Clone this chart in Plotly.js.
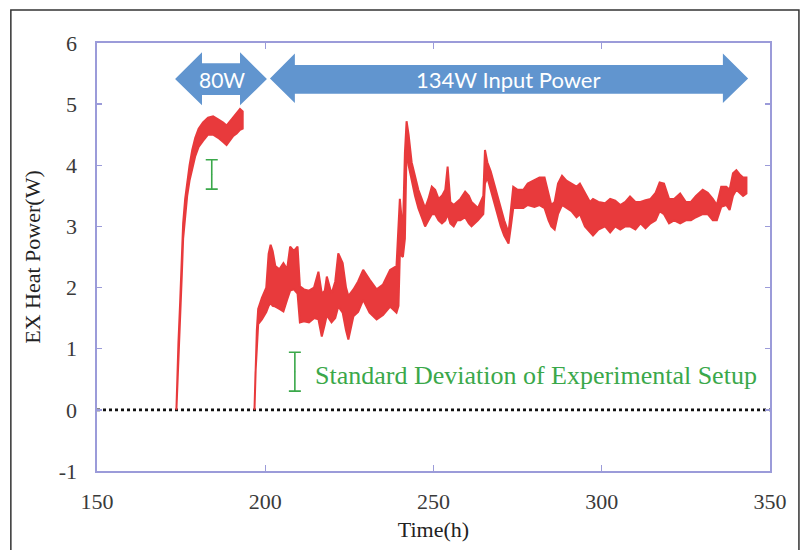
<!DOCTYPE html>
<html><head><meta charset="utf-8">
<script src="https://cdn.plot.ly/plotly-3.0.1.min.js"></script>
<style>html,body{margin:0;padding:0;background:#fff}</style>
</head><body><div id="chart" style="width:804px;height:550px"></div>
<script>
// 80W segment: time (h), lower and upper edge of the scattered band (W)
const tA  = [173.6,173.9,174.2,174.7,175.2,175.6,176.2,176.8,177.5,178.3,179.2,180.2,181.5,183.0,184.5,186.0,187.5,188.5,189.5,190.5,191.5,192.5,193.3];
const loA = [0,0.4,0.9,1.5,2.2,2.8,3.2,3.5,3.75,3.95,4.15,4.3,4.4,4.5,4.5,4.45,4.38,4.33,4.4,4.48,4.52,4.58,4.6];
const hiA = [0,0.6,1.1,1.75,2.5,3.05,3.45,3.75,4.0,4.25,4.45,4.6,4.7,4.78,4.8,4.75,4.7,4.65,4.72,4.78,4.85,4.92,4.88];

// 134W segment
const tB  = [196.8,197.1,197.5,197.9,199.0,200.3,201.0,201.6,202.2,203.0,204.2,205.4,206.5,207.4,208.5,209.6,210.3,211.5,213.0,214.5,215.8,216.8,217.7,218.3,219.7,220.8,221.7,223.0,224.0,224.7,226.2,227.6,229.1,231.0,233.1,235.0,237.1,239.0,239.6,240.0,240.9,241.5,242.0,242.6,243.5,244.5,245.5,246.5,247.5,248.5,249.5,250.5,251.5,252.5,253.5,254.2,255.0,256.0,257.0,258.0,259.4,260.5,261.3,262.3,263.2,264.8,265.3,266.0,267.0,268.0,269.0,270.0,271.0,272.3,273.0,273.7,275.0,276.7,278.0,280.0,281.5,283.0,284.2,285.0,286.0,287.0,288.2,289.5,291.0,292.5,293.5,295.0,296.5,297.4,299.0,301.0,302.5,304.0,305.5,307.0,308.4,310.0,311.5,313.0,314.5,316.0,317.2,318.5,320.0,321.5,323.3,325.0,326.5,328.0,330.0,331.5,333.0,334.2,335.5,337.0,338.0,339.0,340.0,341.0,342.0,343.0];
const loB = [0,0.6,1.0,1.4,1.48,1.6,1.7,1.75,1.7,1.69,1.65,1.61,1.8,1.95,1.97,1.9,1.43,1.45,1.43,1.5,1.48,1.2,1.4,1.55,1.43,1.5,1.69,1.59,1.3,1.15,1.53,1.6,1.8,1.59,1.48,1.55,1.69,1.59,1.7,2.55,2.5,2.8,4.3,4.0,3.75,3.5,3.3,3.15,3.0,3.1,3.2,3.2,3.1,3.05,3.1,3.2,3.05,3.0,3.1,3.1,3.15,3.05,3.0,3.05,3.1,3.2,3.7,3.8,3.6,3.4,3.2,3.0,2.85,2.72,3.0,3.3,3.3,3.3,3.35,3.32,3.35,3.3,3.1,3.0,2.95,3.2,3.35,3.3,3.25,3.15,3.2,3.0,2.9,2.85,2.95,3.0,2.9,3.0,2.95,3.0,3.0,2.95,3.05,2.97,3.05,3.1,3.25,3.2,3.05,3.1,3.05,3.1,3.1,3.15,3.2,3.2,3.1,3.1,3.32,3.35,3.27,3.5,3.6,3.55,3.5,3.54];
const hiB = [0,0.7,1.3,1.65,1.83,2.0,2.55,2.7,2.6,2.35,2.3,2.4,2.3,2.67,2.6,2.67,2.02,1.97,1.95,2.0,2.26,1.9,1.95,2.18,1.9,2.1,2.56,2.4,2.0,1.86,1.97,2.1,2.29,2.13,1.97,2.05,2.29,2.35,2.95,3.45,2.9,4.2,4.72,4.5,4.05,3.8,3.6,3.45,3.3,3.45,3.65,3.6,3.45,3.5,3.6,3.98,3.4,3.35,3.4,3.45,3.57,3.5,3.4,3.35,3.3,3.5,4.25,4.05,3.9,3.7,3.5,3.3,3.1,2.9,3.3,3.65,3.6,3.6,3.7,3.76,3.8,3.8,3.5,3.35,3.4,3.7,3.83,3.75,3.7,3.65,3.7,3.55,3.4,3.45,3.4,3.38,3.45,3.42,3.35,3.4,3.49,3.4,3.4,3.43,3.45,3.55,3.72,3.7,3.45,3.45,3.54,3.4,3.4,3.5,3.6,3.55,3.45,3.35,3.65,3.65,3.6,3.87,3.92,3.85,3.8,3.8];

// baseline (zero heat)
const baseX = [150, 350];
const baseY = [0, 0];

// standard deviation markers
const sdX = [184.1, 208.8];
const sdY = [3.85, 0.625];
const sdErr = [0.24, 0.318];

// tick labels
const yTickVals = [-1, 0, 1, 2, 3, 4, 5, 6];
const yTickText = ['-1', '0', '1', '2', '3', '4', '5', '6'];
const xTickVals = [150, 200, 250, 300, 350];
const xTickText = ['150', '200', '250', '300', '350'];

const RED = '#e83a3c';
const GREEN = '#3aa84a';
const BLUE = '#6195cf';
const AX = '#9b9bd9';

function band(t, lo, hi) {
  return {
    x: t.concat(t.slice().reverse()),
    y: hi.concat(lo.slice().reverse()),
    type: 'scatter', mode: 'lines', fill: 'toself',
    fillcolor: RED, line: {color: RED, width: 2}, hoverinfo: 'skip'
  };
}

const traces = [
  {x: baseX, y: baseY, type: 'scatter', mode: 'lines', line: {color: '#111', width: 2.6, dash: 'dot'}},
  band(tA, loA, hiA),
  band(tB, loB, hiB),
  {x: sdX, y: sdY, type: 'scatter', mode: 'markers', marker: {size: 1, color: GREEN},
   error_y: {type: 'data', array: sdErr, visible: true, color: GREEN, thickness: 1.6, width: 6}}
];

function arrowPath(x0, xb0, xb1, x1, yc, yst, ysb, yht, yhb) {
  return `M ${x0},${yc} L ${xb0},${yht} L ${xb0},${yst} L ${xb1},${yst} L ${xb1},${yht} L ${x1},${yc} L ${xb1},${yhb} L ${xb1},${ysb} L ${xb0},${ysb} L ${xb0},${yhb} Z`;
}

const serif = 'Liberation Serif, Times New Roman, serif';

const layout = {
  width: 804, height: 550,
  margin: {l: 97, r: 34, t: 43, b: 79},
  paper_bgcolor: '#fff', plot_bgcolor: '#fff',
  showlegend: false,
  xaxis: {
    range: [150, 350], tickmode: 'array', tickvals: xTickVals, ticktext: xTickText,
    showgrid: false, zeroline: false,
    showline: true, linecolor: AX, linewidth: 1.6, mirror: 'ticks',
    ticks: 'inside', ticklen: 6, tickcolor: AX, tickwidth: 1.4,
    ticklabelstandoff: 10,
    tickfont: {family: serif, size: 22, color: '#3a3a3a'},
    title: {text: 'Time(h)', font: {family: serif, size: 22, color: '#222'}, standoff: 8}
  },
  yaxis: {
    range: [-1, 6], tickmode: 'array', tickvals: yTickVals, ticktext: yTickText,
    showgrid: false, zeroline: false,
    showline: true, linecolor: AX, linewidth: 1.6, mirror: 'ticks',
    ticks: 'inside', ticklen: 5, tickcolor: AX, tickwidth: 1.4,
    ticklabelstandoff: 14,
    tickfont: {family: serif, size: 22, color: '#3a3a3a'},
    title: {text: 'EX Heat Power(W)', font: {family: serif, size: 22, color: '#222'}, standoff: 12}
  },
  shapes: [
    {type: 'path', xref: 'x', yref: 'y', layer: 'above',
     path: arrowPath(173.2, 181.2, 192.5, 200.5, 5.41, 5.67, 5.15, 5.85, 4.98),
     fillcolor: BLUE, line: {width: 0}},
    {type: 'path', xref: 'x', yref: 'y', layer: 'above',
     path: arrowPath(201.4, 208.8, 336.0, 343.5, 5.42, 5.64, 5.17, 5.83, 5.02),
     fillcolor: BLUE, line: {width: 0}},
    {type: 'rect', xref: 'paper', yref: 'paper', x0: -0.128, x1: 1.043, y0: -0.2, y1: 1.077,
     line: {color: '#333', width: 1.5}, fillcolor: 'rgba(0,0,0,0)'}
  ],
  annotations: [
    {x: 187, y: 5.41, xref: 'x', yref: 'y', text: '80W', showarrow: false,
     font: {family: 'Lato, Open Sans, sans-serif', size: 21, color: '#fff'}},
    {x: 272.2, y: 5.41, xref: 'x', yref: 'y', text: '134W Input Power', showarrow: false,
     font: {family: 'Lato, Open Sans, sans-serif', size: 22, color: '#fff'}},
    {x: 214.2, y: 0.56, xref: 'x', yref: 'y', xanchor: 'left', text: 'Standard Deviation of Experimental Setup',
     showarrow: false, font: {family: serif, size: 26, color: GREEN}}
  ]
};

Plotly.newPlot('chart', traces, layout, {displayModeBar: false, staticPlot: true});
</script></body></html>
